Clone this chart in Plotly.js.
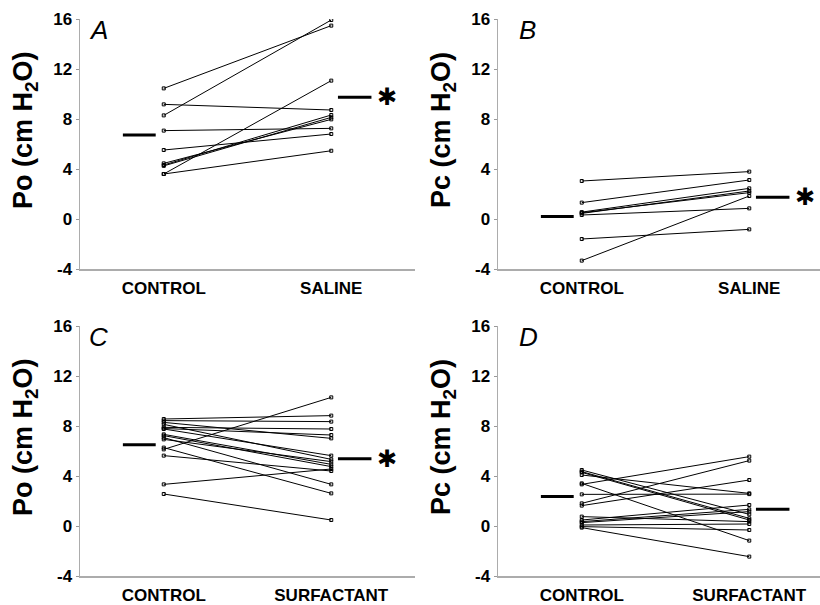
<!DOCTYPE html>
<html>
<head>
<meta charset="utf-8">
<script src="https://cdn.plot.ly/plotly-3.0.1.min.js"></script>
<style>html,body{margin:0;padding:0;background:#fff;}#chart{width:820px;height:605px;}</style>
</head>
<body>
<div id="chart"></div>
<script>
// ---------- data ----------
const categoriesAB = ["CONTROL", "SALINE"];
const categoriesCD = ["CONTROL", "SURFACTANT"];
const yTicks = [-4, 0, 4, 8, 12, 16];
const yTickLabels = ["-4", "0", "4", "8", "12", "16"];

// Panel A: Po, control vs saline
const aControl = [10.45, 8.29, 9.17, 7.07, 5.52, 3.60, 3.60, 4.32, 4.25, 4.45];
const aSaline  = [15.47, 15.92, 8.72, 7.25, 6.80, 11.07, 5.46, 8.32, 8.13, 7.97];
const aMeans   = [6.72, 9.73];

// Panel B: Pc, control vs saline
const bControl = [3.04, 1.31, 0.55, 0.45, 0.50, 0.32, -1.60, -3.33];
const bSaline  = [3.79, 3.12, 2.45, 2.24, 2.11, 0.85, -0.83, 1.84];
const bMeans   = [0.19, 1.73];

// Panel C: Po, control vs surfactant
const cControl    = [8.56, 8.43, 8.29, 8.13, 7.89, 7.80, 7.76, 7.33, 7.23, 7.07, 6.93, 6.27, 6.13, 5.63, 3.33, 2.56];
const cSurfactant = [8.83, 8.35, 7.01, 5.33, 7.76, 7.28, 5.63, 4.93, 4.75, 3.33, 5.15, 2.61, 10.29, 4.40, 4.56, 0.48];
const cMeans      = [6.50, 5.38];

// Panel D: Pc, control vs surfactant
const dControl    = [4.48, 4.35, 4.29, 4.08, 3.41, 3.33, 2.53, 1.81, 1.63, 0.75, 0.48, 0.35, 0.27, 0.08, -0.05, -0.13];
const dSurfactant = [0.93, 0.61, 0.48, 2.61, -1.17, 5.55, 2.55, 5.23, 3.68, 0.35, 1.68, 1.33, 1.15, 0.16, -0.32, -2.45];
const dMeans      = [2.35, 1.33];

const panels = [
  {letter: "A", ctrl: aControl, exp: aSaline, means: aMeans, cats: categoriesAB, ytitle: "Po (cm H<sub>2</sub>O)", star: true},
  {letter: "B", ctrl: bControl, exp: bSaline, means: bMeans, cats: categoriesAB, ytitle: "Pc (cm H<sub>2</sub>O)", star: true},
  {letter: "C", ctrl: cControl, exp: cSurfactant, means: cMeans, cats: categoriesCD, ytitle: "Po (cm H<sub>2</sub>O)", star: true},
  {letter: "D", ctrl: dControl, exp: dSurfactant, means: dMeans, cats: categoriesCD, ytitle: "Pc (cm H<sub>2</sub>O)", star: false}
];

// ---------- layout geometry (pixels) ----------
const W = 820, H = 605;
const FONT = "Liberation Sans, Arial, Helvetica, sans-serif";
const unitPx = 167.5;
const geo = [
  {x0: 80,  x1: 415, y0: 19,  y1: 269},
  {x0: 498, x1: 820, y0: 19,  y1: 269},
  {x0: 80,  x1: 415, y0: 326, y1: 576},
  {x0: 498, x1: 820, y0: 326, y1: 576}
];

const traces = [];
const annotations = [];
const layout = {
  width: W, height: H,
  margin: {l: 0, r: 0, t: 0, b: 0},
  paper_bgcolor: "#fff", plot_bgcolor: "rgba(0,0,0,0)",
  showlegend: false,
  font: {family: FONT, color: "#000"},
  annotations: annotations
};

panels.forEach((p, k) => {
  const g = geo[k];
  const sfx = k === 0 ? "" : String(k + 1);
  const xa = "x" + sfx, ya = "y" + sfx;
  layout["xaxis" + sfx] = {
    domain: [g.x0 / W, g.x1 / W],
    range: [0.5, 0.5 + (g.x1 - g.x0) / unitPx],
    anchor: ya,
    tickvals: [1, 2], ticktext: p.cats,
    tickfont: {family: FONT, size: 17, color: "#000", weight: "bold"},
    ticks: "outside", ticklen: 3, tickcolor: "rgba(0,0,0,0)", tickwidth: 1,
    showline: true, linecolor: "#acacac", linewidth: 1.5,
    showgrid: false, zeroline: false, fixedrange: true
  };
  layout["yaxis" + sfx] = {
    domain: [1 - g.y1 / H, 1 - g.y0 / H],
    range: [-4, 16],
    anchor: xa,
    tickvals: yTicks, ticktext: yTickLabels,
    tickfont: {family: FONT, size: 17, color: "#000", weight: "bold"},
    ticks: "outside", ticklen: 3, tickcolor: "#999", tickwidth: 1,
    showline: true, linecolor: "#acacac", linewidth: 1.5,
    showgrid: false, zeroline: false, fixedrange: true
  };
  // individual subjects
  p.ctrl.forEach((c, i) => {
    traces.push({
      type: "scatter", mode: "lines+markers",
      x: [1, 2], y: [c, p.exp[i]], xaxis: xa, yaxis: ya,
      line: {color: "#000", width: 1},
      marker: {symbol: "square-open", size: 3, color: "#000", line: {width: 1, color: "#000"}},
      hoverinfo: "skip"
    });
  });
  // mean bars
  traces.push({
    type: "scatter", mode: "lines", x: [0.756, 0.952], y: [p.means[0], p.means[0]],
    xaxis: xa, yaxis: ya, line: {color: "#000", width: 3}, hoverinfo: "skip"
  });
  traces.push({
    type: "scatter", mode: "lines", x: [2.04, 2.24], y: [p.means[1], p.means[1]],
    xaxis: xa, yaxis: ya, line: {color: "#000", width: 3}, hoverinfo: "skip"
  });
  if (p.star) {
    annotations.push({
      xref: xa, yref: ya, x: 2.33, y: p.means[1], text: "✱",
      showarrow: false, xanchor: "center", yanchor: "middle",
      font: {family: "DejaVu Sans", size: 24, color: "#000"}
    });
  }
  // panel letter
  annotations.push({
    xref: "paper", yref: "paper",
    x: (g.x0 + (k % 2 === 0 ? 7 : 19)) / W, y: 1 - (g.y0 - 6) / H,
    xanchor: "left", yanchor: "top", text: "<i>" + p.letter + "</i>", showarrow: false,
    font: {family: FONT, size: 26, color: "#000"}
  });
  // y-axis title
  annotations.push({
    xref: "paper", yref: "paper",
    x: (g.x0 - 55) / W, y: 1 - (g.y0 + 111) / H,
    xanchor: "center", yanchor: "middle", textangle: -90,
    text: "<b>" + p.ytitle + "</b>", showarrow: false,
    font: {family: FONT, size: 27, color: "#000"}
  });
});

Plotly.newPlot("chart", traces, layout, {staticPlot: true, displayModeBar: false});
</script>
</body>
</html>
